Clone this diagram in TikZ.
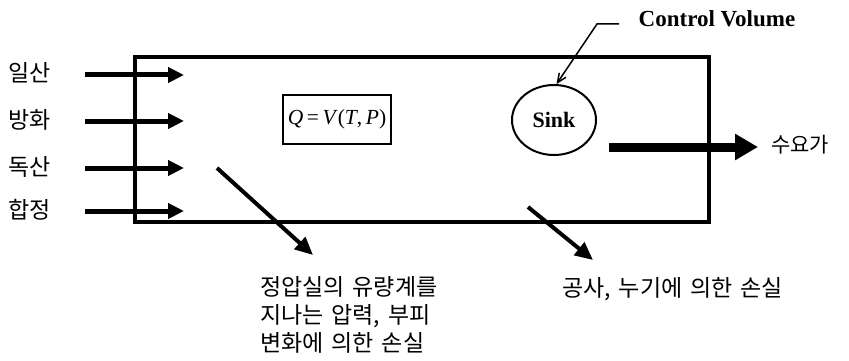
\documentclass[tikz,border=0pt]{standalone}
\usepackage{fontspec}
\setmainfont{Liberation Serif}
\newfontfamily\kr{Noto Sans CJK KR}
\newcommand{\krbig}{\kr\fontsize{23}{28}\selectfont\spaceskip=8pt\relax}
\newcommand{\krmid}{\kr\fontsize{21}{28}\selectfont}
\usetikzlibrary{arrows.meta,shapes.geometric}
\tikzset{
  krlabel/.style={font=\krbig, inner sep=0pt},
  inarrow/.style={line width=5pt, -{Triangle[length=16pt,width=15pt]}},
  lossarrow/.style={line width=4pt, -{Triangle[length=18pt,width=16pt]}},
  outarrow/.style={line width=9pt, -{Triangle[length=23pt,width=25pt]}},
  leader/.style={line width=1.5pt, -{Straight Barb[length=9pt,width=8pt]}},
}
\begin{document}
\begin{tikzpicture}[x=1pt,y=-1pt]
\useasboundingbox (0,0) rectangle (849,361);
% control volume box
\node[draw, line width=4.5pt, minimum width=574pt, minimum height=165pt, inner sep=0pt] (cv) at (422,139.5) {};
% inputs
\node[krlabel] (l1) at (30,73) {일산};
\node[krlabel] (l2) at (30,120) {방화};
\node[krlabel] (l3) at (30,167) {독산};
\node[krlabel] (l4) at (30,210) {합정};
\foreach \i/\y in {1/75,2/121,3/168,4/211}{
  \coordinate (s\i) at (85,\y);
  \coordinate (e\i) at (184,\y);
  \draw[inarrow] (s\i) -- (e\i);
}
% formula
\node[draw, line width=1.5pt, minimum width=108pt, minimum height=49pt, inner sep=0pt,
      font=\fontsize{21.5}{24}\selectfont] (eq) at (337,119.5)
  {\textit{Q}\,=\,\textit{V}(\textit{T},\,\textit{P})};
% sink
\node[draw, ellipse, line width=2pt, minimum width=84pt, minimum height=70pt, inner sep=0pt,
      font=\bfseries\fontsize{22}{24}\selectfont] (sink) at (554,120) {Sink};
% control volume label
\node[font=\bfseries\fontsize{23}{24}\selectfont, inner sep=0pt] (cvl) at (717,19) {Control Volume};
\coordinate (k1) at (619,24);
\coordinate (k2) at (597,24);
\draw[leader] (k1) -- (k2) -- (sink.86);
% output
\coordinate (o1) at (609,147);
\coordinate (o2) at (758,147);
\draw[outarrow] (o1) -- (o2);
\node[krlabel, font=\krmid, anchor=west] (dem) at (771,145) {수요가};
% losses
\coordinate (d1s) at (217,168);
\coordinate (d1e) at (313,255);
\draw[lossarrow] (d1s) -- (d1e);
\coordinate (d2s) at (528,207);
\coordinate (d2e) at (593,260);
\draw[lossarrow] (d2s) -- (d2e);
\node[krlabel, align=left, anchor=north west] (loss1) at (260,276)
  {정압실의 유량계를\\지나는 압력, 부피\\변화에 의한 손실};
\node[krlabel, anchor=west] (loss2) at (562,289) {공사, 누기에 의한 손실};
\end{tikzpicture}
\end{document}
